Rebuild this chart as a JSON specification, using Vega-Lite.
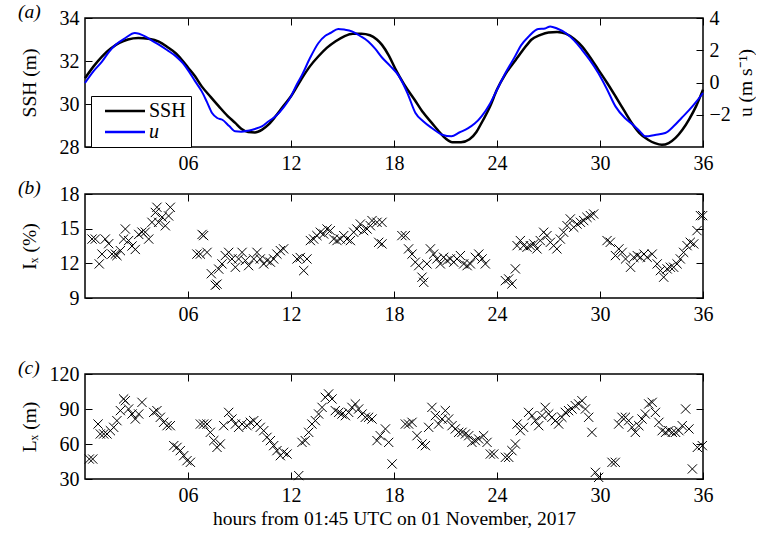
{
"$schema": "https://vega.github.io/schema/vega-lite/v6.json",
"background": "white",
"padding": {"left": 17, "top": 0, "right": 0, "bottom": 5},
"spacing": 2,
"config": {
 "font": "Liberation Serif",
 "view": {"stroke": "#000", "strokeWidth": 1.5},
 "axis": {"labelFont": "Liberation Serif", "titleFont": "Liberation Serif", "labelFontSize": 20, "titleFontSize": 19.5, "titleFontWeight": "normal", "labelColor": "#000", "titleColor": "#000", "tickColor": "#000", "domain": false, "grid": false, "tickSize": -7, "tickWidth": 1, "labelPadding": 13, "minExtent": 0, "labelFlush": false}
},
"datasets": {
 "tide": [
{"s":"SSH","t":0,"v":31.2},{"s":"SSH","t":0.5,"v":31.75},{"s":"SSH","t":1.0,"v":32.22},{"s":"SSH","t":1.5,"v":32.58},{"s":"SSH","t":2.0,"v":32.84},{"s":"SSH","t":2.5,"v":33.0},{"s":"SSH","t":3.1,"v":33.07},{"s":"SSH","t":3.7,"v":33.03},{"s":"SSH","t":4.3,"v":32.9},{"s":"SSH","t":4.8,"v":32.65},{"s":"SSH","t":5.3,"v":32.35},{"s":"SSH","t":5.7,"v":32.0},{"s":"SSH","t":6.0,"v":31.7},{"s":"SSH","t":6.4,"v":31.3},{"s":"SSH","t":6.8,"v":30.82},{"s":"SSH","t":7.3,"v":30.35},{"s":"SSH","t":7.8,"v":29.89},{"s":"SSH","t":8.3,"v":29.45},{"s":"SSH","t":8.75,"v":29.12},{"s":"SSH","t":9.1,"v":28.85},{"s":"SSH","t":9.5,"v":28.7},{"s":"SSH","t":9.9,"v":28.68},{"s":"SSH","t":10.3,"v":28.8},{"s":"SSH","t":10.7,"v":29.05},{"s":"SSH","t":11.1,"v":29.43},{"s":"SSH","t":11.5,"v":29.85},{"s":"SSH","t":12.0,"v":30.36},{"s":"SSH","t":12.6,"v":31.15},{"s":"SSH","t":13.1,"v":31.75},{"s":"SSH","t":13.6,"v":32.22},{"s":"SSH","t":14.1,"v":32.62},{"s":"SSH","t":14.6,"v":32.92},{"s":"SSH","t":15.1,"v":33.15},{"s":"SSH","t":15.6,"v":33.27},{"s":"SSH","t":16.1,"v":33.27},{"s":"SSH","t":16.6,"v":33.2},{"s":"SSH","t":17.0,"v":33.0},{"s":"SSH","t":17.3,"v":32.75},{"s":"SSH","t":17.7,"v":32.25},{"s":"SSH","t":18.1,"v":31.6},{"s":"SSH","t":18.6,"v":30.9},{"s":"SSH","t":19.2,"v":30.2},{"s":"SSH","t":19.7,"v":29.6},{"s":"SSH","t":20.2,"v":29.12},{"s":"SSH","t":20.7,"v":28.65},{"s":"SSH","t":21.0,"v":28.4},{"s":"SSH","t":21.4,"v":28.22},{"s":"SSH","t":21.9,"v":28.22},{"s":"SSH","t":22.4,"v":28.36},{"s":"SSH","t":22.8,"v":28.7},{"s":"SSH","t":23.1,"v":29.12},{"s":"SSH","t":23.6,"v":29.9},{"s":"SSH","t":24.0,"v":30.67},{"s":"SSH","t":24.5,"v":31.4},{"s":"SSH","t":25.1,"v":32.06},{"s":"SSH","t":25.6,"v":32.6},{"s":"SSH","t":26.0,"v":32.99},{"s":"SSH","t":26.5,"v":33.2},{"s":"SSH","t":27.0,"v":33.33},{"s":"SSH","t":27.5,"v":33.35},{"s":"SSH","t":28.0,"v":33.27},{"s":"SSH","t":28.5,"v":33.02},{"s":"SSH","t":28.95,"v":32.68},{"s":"SSH","t":29.4,"v":32.2},{"s":"SSH","t":29.9,"v":31.6},{"s":"SSH","t":30.4,"v":31.0},{"s":"SSH","t":30.9,"v":30.36},{"s":"SSH","t":31.4,"v":29.7},{"s":"SSH","t":31.85,"v":29.12},{"s":"SSH","t":32.3,"v":28.65},{"s":"SSH","t":32.8,"v":28.34},{"s":"SSH","t":33.2,"v":28.18},{"s":"SSH","t":33.6,"v":28.1},{"s":"SSH","t":34.0,"v":28.18},{"s":"SSH","t":34.4,"v":28.42},{"s":"SSH","t":34.8,"v":28.8},{"s":"SSH","t":35.2,"v":29.3},{"s":"SSH","t":35.6,"v":29.9},{"s":"SSH","t":36.0,"v":30.67},
{"s":"u","t":0,"v":-0.03},{"s":"u","t":0.5,"v":0.7},{"s":"u","t":1.0,"v":1.31},{"s":"u","t":1.4,"v":1.9},{"s":"u","t":1.8,"v":2.35},{"s":"u","t":2.35,"v":2.76},{"s":"u","t":2.9,"v":3.07},{"s":"u","t":3.5,"v":2.86},{"s":"u","t":3.9,"v":2.6},{"s":"u","t":4.3,"v":2.35},{"s":"u","t":4.8,"v":2.0},{"s":"u","t":5.3,"v":1.62},{"s":"u","t":5.7,"v":1.2},{"s":"u","t":6.05,"v":0.69},{"s":"u","t":6.4,"v":0.1},{"s":"u","t":6.8,"v":-0.55},{"s":"u","t":7.1,"v":-1.2},{"s":"u","t":7.4,"v":-1.89},{"s":"u","t":7.7,"v":-2.2},{"s":"u","t":8.0,"v":-2.31},{"s":"u","t":8.4,"v":-2.7},{"s":"u","t":8.75,"v":-3.03},{"s":"u","t":9.1,"v":-3.05},{"s":"u","t":9.5,"v":-2.99},{"s":"u","t":9.9,"v":-2.88},{"s":"u","t":10.3,"v":-2.72},{"s":"u","t":10.7,"v":-2.4},{"s":"u","t":11.1,"v":-2.1},{"s":"u","t":11.6,"v":-1.5},{"s":"u","t":12.0,"v":-0.86},{"s":"u","t":12.3,"v":-0.2},{"s":"u","t":12.65,"v":0.48},{"s":"u","t":13.1,"v":1.5},{"s":"u","t":13.6,"v":2.45},{"s":"u","t":14.0,"v":2.9},{"s":"u","t":14.3,"v":3.07},{"s":"u","t":14.75,"v":3.32},{"s":"u","t":15.1,"v":3.28},{"s":"u","t":15.55,"v":3.17},{"s":"u","t":16.0,"v":2.9},{"s":"u","t":16.5,"v":2.55},{"s":"u","t":16.9,"v":2.1},{"s":"u","t":17.3,"v":1.55},{"s":"u","t":17.8,"v":1.0},{"s":"u","t":18.3,"v":0.38},{"s":"u","t":18.8,"v":-0.7},{"s":"u","t":19.25,"v":-1.89},{"s":"u","t":19.7,"v":-2.4},{"s":"u","t":20.2,"v":-2.82},{"s":"u","t":20.8,"v":-3.24},{"s":"u","t":21.35,"v":-3.34},{"s":"u","t":21.8,"v":-3.1},{"s":"u","t":22.3,"v":-2.85},{"s":"u","t":22.7,"v":-2.55},{"s":"u","t":23.1,"v":-2.1},{"s":"u","t":23.6,"v":-1.3},{"s":"u","t":24.0,"v":-0.45},{"s":"u","t":24.5,"v":0.6},{"s":"u","t":25.05,"v":1.62},{"s":"u","t":25.4,"v":2.3},{"s":"u","t":25.85,"v":2.86},{"s":"u","t":26.4,"v":3.32},{"s":"u","t":26.8,"v":3.35},{"s":"u","t":27.1,"v":3.48},{"s":"u","t":27.5,"v":3.35},{"s":"u","t":28.0,"v":3.07},{"s":"u","t":28.5,"v":2.6},{"s":"u","t":28.95,"v":2.03},{"s":"u","t":29.4,"v":1.4},{"s":"u","t":29.9,"v":0.59},{"s":"u","t":30.4,"v":-0.4},{"s":"u","t":30.9,"v":-1.48},{"s":"u","t":31.45,"v":-2.2},{"s":"u","t":31.9,"v":-2.6},{"s":"u","t":32.3,"v":-3.0},{"s":"u","t":32.65,"v":-3.34},{"s":"u","t":33.2,"v":-3.25},{"s":"u","t":33.8,"v":-3.13},{"s":"u","t":34.3,"v":-2.7},{"s":"u","t":34.75,"v":-2.2},{"s":"u","t":35.2,"v":-1.7},{"s":"u","t":35.6,"v":-1.2},{"s":"u","t":36.0,"v":-0.65}
 ],
 "ix": [
{"t":0.41,"v":14.1},{"t":0.6,"v":14.1},{"t":0.83,"v":11.95},{"t":0.99,"v":12.8},{"t":1.18,"v":14.1},{"t":1.38,"v":13.7},{"t":1.57,"v":12.8},{"t":1.77,"v":12.8},{"t":1.86,"v":12.67},{"t":2.06,"v":13.1},{"t":2.25,"v":14.1},{"t":2.35,"v":14.97},{"t":2.54,"v":13.97},{"t":2.74,"v":13.5},{"t":2.93,"v":13.2},{"t":3.13,"v":14.5},{"t":3.32,"v":14.7},{"t":3.51,"v":14.7},{"t":3.71,"v":14.1},{"t":3.9,"v":15.55},{"t":4.1,"v":16.4},{"t":4.19,"v":16.85},{"t":4.29,"v":15.55},{"t":4.49,"v":16.0},{"t":4.68,"v":15.25},{"t":4.87,"v":16.1},{"t":4.97,"v":16.85},
{"t":6.52,"v":12.8},{"t":6.72,"v":12.8},{"t":6.82,"v":14.5},{"t":6.91,"v":14.4},{"t":7.11,"v":12.95},{"t":7.36,"v":11.1},{"t":7.59,"v":10.1},{"t":7.69,"v":10.2},{"t":7.79,"v":11.5},{"t":7.98,"v":11.95},{"t":8.17,"v":12.67},{"t":8.37,"v":12.95},{"t":8.56,"v":12.38},{"t":8.76,"v":11.66},{"t":8.95,"v":12.38},{"t":9.15,"v":12.95},{"t":9.34,"v":12.24},{"t":9.53,"v":11.8},{"t":9.83,"v":12.38},{"t":10.02,"v":12.95},{"t":10.21,"v":12.38},{"t":10.41,"v":11.95},{"t":10.6,"v":12.24},{"t":10.8,"v":12.1},{"t":10.99,"v":12.38},{"t":11.18,"v":12.8},{"t":11.38,"v":13.1},{"t":11.57,"v":13.25},
{"t":12.35,"v":12.38},{"t":12.54,"v":12.5},{"t":12.74,"v":11.37},{"t":12.93,"v":12.38},{"t":13.13,"v":13.97},{"t":13.32,"v":14.1},{"t":13.51,"v":14.4},{"t":13.71,"v":14.69},{"t":13.9,"v":14.54},{"t":14.1,"v":14.97},{"t":14.29,"v":14.83},{"t":14.49,"v":14.1},{"t":14.68,"v":13.97},{"t":14.87,"v":14.1},{"t":15.07,"v":14.4},{"t":15.26,"v":14.1},{"t":15.46,"v":13.97},{"t":15.65,"v":14.69},{"t":15.84,"v":14.97},{"t":16.04,"v":15.4},{"t":16.23,"v":14.83},{"t":16.43,"v":14.97},{"t":16.62,"v":15.26},{"t":16.72,"v":15.7},{"t":17.01,"v":15.55},{"t":17.11,"v":13.82},{"t":17.3,"v":15.55},{"t":17.3,"v":13.68},
{"t":18.46,"v":14.4},{"t":18.66,"v":14.4},{"t":18.85,"v":13.25},{"t":19.05,"v":12.8},{"t":19.24,"v":12.1},{"t":19.44,"v":11.8},{"t":19.63,"v":10.8},{"t":19.73,"v":10.36},{"t":19.92,"v":11.95},{"t":20.12,"v":13.25},{"t":20.31,"v":12.8},{"t":20.5,"v":12.38},{"t":20.7,"v":11.95},{"t":20.89,"v":12.52},{"t":21.09,"v":12.24},{"t":21.28,"v":12.38},{"t":21.48,"v":12.1},{"t":21.67,"v":12.38},{"t":21.87,"v":12.67},{"t":22.06,"v":11.95},{"t":22.26,"v":11.8},{"t":22.45,"v":11.95},{"t":22.74,"v":12.52},{"t":22.94,"v":12.8},{"t":23.13,"v":12.38},{"t":23.32,"v":11.95},
{"t":24.49,"v":10.5},{"t":24.68,"v":10.65},{"t":24.87,"v":10.22},{"t":25.07,"v":11.52},{"t":25.17,"v":13.53},{"t":25.36,"v":13.97},{"t":25.55,"v":13.53},{"t":25.75,"v":13.39},{"t":25.94,"v":13.53},{"t":26.14,"v":13.68},{"t":26.33,"v":13.25},{"t":26.52,"v":13.97},{"t":26.72,"v":14.69},{"t":26.91,"v":14.4},{"t":27.11,"v":13.82},{"t":27.3,"v":13.53},{"t":27.49,"v":13.25},{"t":27.69,"v":14.1},{"t":27.88,"v":14.69},{"t":28.08,"v":15.26},{"t":28.27,"v":15.84},{"t":28.47,"v":15.12},{"t":28.66,"v":15.4},{"t":28.86,"v":15.55},{"t":29.05,"v":15.7},{"t":29.24,"v":15.98},{"t":29.44,"v":16.13},{"t":29.63,"v":16.27},
{"t":30.41,"v":13.97},{"t":30.6,"v":13.82},{"t":30.9,"v":12.67},{"t":31.1,"v":13.25},{"t":31.29,"v":12.95},{"t":31.49,"v":12.38},{"t":31.78,"v":11.66},{"t":31.97,"v":12.52},{"t":32.17,"v":12.67},{"t":32.36,"v":12.52},{"t":32.56,"v":12.8},{"t":32.75,"v":12.52},{"t":33.04,"v":12.8},{"t":33.33,"v":11.95},{"t":33.52,"v":11.37},{"t":33.71,"v":10.8},{"t":33.91,"v":11.52},{"t":34.1,"v":11.66},{"t":34.29,"v":11.66},{"t":34.49,"v":11.95},{"t":34.68,"v":12.38},{"t":34.87,"v":12.95},{"t":35.07,"v":13.53},{"t":35.26,"v":13.82},{"t":35.46,"v":13.68},{"t":35.65,"v":14.83},{"t":35.85,"v":16.13},{"t":35.98,"v":16.13}
 ],
 "lx": [
{"t":0.25,"v":47.1},{"t":0.45,"v":47.1},{"t":0.76,"v":77.1},{"t":0.89,"v":68.6},{"t":1.09,"v":68.6},{"t":1.28,"v":68.6},{"t":1.48,"v":71.4},{"t":1.67,"v":74.3},{"t":1.86,"v":80},{"t":2.06,"v":88.6},{"t":2.25,"v":98.6},{"t":2.35,"v":97.1},{"t":2.54,"v":90},{"t":2.74,"v":85.7},{"t":2.93,"v":81.4},{"t":3.13,"v":85.7},{"t":3.32,"v":95.7},{"t":4.0,"v":87.1},{"t":4.19,"v":88.6},{"t":4.39,"v":82.9},{"t":4.58,"v":78.6},{"t":4.78,"v":75.7},{"t":4.97,"v":75.7},{"t":5.17,"v":58.6},{"t":5.36,"v":57.1},{"t":5.55,"v":54.3},{"t":5.75,"v":50},{"t":5.94,"v":45.7},{"t":6.14,"v":44.3},
{"t":6.72,"v":77.1},{"t":6.91,"v":77.1},{"t":7.11,"v":77.1},{"t":7.3,"v":70},{"t":7.5,"v":62.9},{"t":7.69,"v":57.1},{"t":7.88,"v":60},{"t":8.08,"v":75.7},{"t":8.37,"v":87.1},{"t":8.56,"v":81.4},{"t":8.76,"v":77.1},{"t":8.95,"v":74.3},{"t":9.15,"v":77.1},{"t":9.44,"v":75.7},{"t":9.63,"v":78.6},{"t":9.83,"v":80},{"t":10.02,"v":77.1},{"t":10.21,"v":74.3},{"t":10.41,"v":71.4},{"t":10.6,"v":65.7},{"t":10.8,"v":62.9},{"t":10.99,"v":58.6},{"t":11.18,"v":54.3},{"t":11.38,"v":50},{"t":11.57,"v":52.9},{"t":11.77,"v":51.4},
{"t":12.45,"v":32.9},{"t":12.64,"v":61.4},{"t":12.83,"v":62.9},{"t":13.03,"v":70},{"t":13.22,"v":77.1},{"t":13.42,"v":80},{"t":13.61,"v":85.7},{"t":13.81,"v":91.4},{"t":14.0,"v":100},{"t":14.19,"v":102.9},{"t":14.39,"v":98.6},{"t":14.58,"v":88.6},{"t":14.78,"v":87.1},{"t":14.97,"v":85.7},{"t":15.17,"v":84.3},{"t":15.36,"v":87.1},{"t":15.55,"v":91.4},{"t":15.75,"v":94.3},{"t":15.94,"v":90},{"t":16.14,"v":85.7},{"t":16.33,"v":82.9},{"t":16.52,"v":82.9},{"t":16.72,"v":81.4},{"t":17.01,"v":62.9},{"t":17.2,"v":67.1},{"t":17.5,"v":72.9},{"t":17.69,"v":61.4},{"t":17.89,"v":42.9},
{"t":18.66,"v":77.1},{"t":18.85,"v":77.1},{"t":19.05,"v":78.6},{"t":19.34,"v":67.1},{"t":19.63,"v":60},{"t":19.83,"v":58.6},{"t":20.02,"v":74.3},{"t":20.21,"v":91.4},{"t":20.41,"v":84.3},{"t":20.6,"v":77.1},{"t":20.8,"v":81.4},{"t":20.99,"v":88.6},{"t":21.18,"v":81.4},{"t":21.38,"v":75.7},{"t":21.57,"v":72.9},{"t":21.77,"v":70},{"t":21.96,"v":70},{"t":22.16,"v":68.6},{"t":22.35,"v":67.1},{"t":22.54,"v":61.4},{"t":22.74,"v":62.9},{"t":22.93,"v":64.3},{"t":23.22,"v":67.1},{"t":23.42,"v":61.4},{"t":23.61,"v":51.4},{"t":23.81,"v":51.4},
{"t":24.49,"v":48.6},{"t":24.68,"v":48.6},{"t":24.87,"v":54.3},{"t":25.07,"v":60},{"t":25.17,"v":77.1},{"t":25.36,"v":71.4},{"t":25.55,"v":74.3},{"t":25.84,"v":87.1},{"t":26.04,"v":84.3},{"t":26.23,"v":80},{"t":26.43,"v":75.7},{"t":26.62,"v":84.3},{"t":26.81,"v":91.4},{"t":27.01,"v":85.7},{"t":27.2,"v":82.9},{"t":27.4,"v":80},{"t":27.59,"v":77.1},{"t":27.78,"v":82.9},{"t":27.98,"v":87.1},{"t":28.17,"v":88.6},{"t":28.37,"v":90},{"t":28.56,"v":92.9},{"t":28.76,"v":94.3},{"t":28.95,"v":97.1},{"t":29.15,"v":90},{"t":29.34,"v":82.9},{"t":29.53,"v":70},{"t":29.73,"v":35.7},{"t":29.92,"v":31.4},
{"t":30.7,"v":44.3},{"t":30.89,"v":44.3},{"t":31.09,"v":77.1},{"t":31.28,"v":82.9},{"t":31.48,"v":82.9},{"t":31.67,"v":80},{"t":31.87,"v":74.3},{"t":32.06,"v":70},{"t":32.26,"v":75.7},{"t":32.45,"v":81.4},{"t":32.64,"v":85.7},{"t":32.84,"v":94.3},{"t":33.04,"v":95.7},{"t":33.23,"v":87.1},{"t":33.43,"v":78.6},{"t":33.62,"v":71.4},{"t":33.82,"v":70},{"t":34.01,"v":71.4},{"t":34.21,"v":70},{"t":34.4,"v":70},{"t":34.6,"v":71.4},{"t":34.79,"v":75.7},{"t":34.99,"v":90},{"t":35.18,"v":72.9},{"t":35.38,"v":38.6},{"t":35.67,"v":57.1},{"t":35.96,"v":58.6}
 ]
},
"vconcat": [
 {
  "width": 618, "height": 129,
  "title": {"text": "(a)", "anchor": "start", "frame": "bounds", "dx": -1, "offset": -14, "font": "Liberation Serif", "fontSize": 19.5, "fontStyle": "italic", "fontWeight": "normal", "color": "#000"},
  "data": {"name": "tide"},
  "layer": [
   {
    "transform": [{"filter": "datum.s === 'SSH'"}],
    "mark": {"type": "line", "strokeWidth": 2.5, "interpolate": "monotone"},
    "encoding": {
     "x": {"field": "t", "type": "quantitative", "scale": {"domain": [0, 36], "nice": false}, "axis": {"orient": "bottom", "values": [6, 12, 18, 24, 30, 36], "format": "02d", "title": null}},
     "y": {"field": "v", "type": "quantitative", "scale": {"domain": [28, 34], "nice": false, "zero": false}, "axis": {"orient": "left", "values": [28, 30, 32, 34], "title": "SSH (m)", "titlePadding": 20}},
     "color": {"field": "s", "type": "nominal", "scale": {"domain": ["SSH", "u"], "range": ["#000000", "#0000ff"]},
       "legend": {"orient": "none", "legendX": 6, "legendY": 78, "title": null, "symbolType": "M-0.2,0L7.8,0", "symbolSize": 100, "symbolStrokeWidth": 2.5, "labelFont": "Liberation Serif", "labelFontSize": 20, "labelColor": "#000", "strokeColor": "#000", "fillColor": "#fff", "padding": 5, "rowPadding": 1, "labelOffset": 33,
         "encode": {"labels": {"update": {"fontStyle": {"signal": "datum.label === 'u' ? 'italic' : 'normal'"}}}}}}
    }
   },
   {
    "transform": [{"filter": "datum.s === 'u'"}],
    "mark": {"type": "line", "strokeWidth": 2, "interpolate": "monotone"},
    "encoding": {
     "x": {"field": "t", "type": "quantitative", "scale": {"domain": [0, 36], "nice": false}, "axis": {"orient": "top", "values": [6, 12, 18, 24, 30, 36], "labels": false, "title": null}},
     "y": {"field": "v", "type": "quantitative", "scale": {"domain": [-4, 4], "nice": false}, "axis": {"orient": "right", "values": [-2, 0, 2, 4], "title": "u (m s⁻¹)", "titleAngle": 270, "titleBaseline": "top", "titlePadding": 6}},
     "color": {"field": "s", "type": "nominal"}
    }
   }
  ],
  "resolve": {"scale": {"y": "independent"}, "axis": {"x": "independent", "y": "independent"}}
 },
 {
  "width": 618, "height": 104,
  "title": {"text": "(b)", "anchor": "start", "frame": "bounds", "dx": -1, "offset": -14, "font": "Liberation Serif", "fontSize": 19.5, "fontStyle": "italic", "fontWeight": "normal", "color": "#000"},
  "data": {"name": "ix"},
  "layer": [
   {
    "mark": {"type": "point", "shape": "M-1,-1L1,1M-1,1L1,-1", "filled": false, "color": "#000", "strokeWidth": 1, "size": 85, "opacity": 1},
    "encoding": {
     "x": {"field": "t", "type": "quantitative", "scale": {"domain": [0, 36], "nice": false}, "axis": {"orient": "bottom", "values": [6, 12, 18, 24, 30, 36], "format": "02d", "title": null, "minExtent": 55}},
     "y": {"field": "v", "type": "quantitative", "scale": {"domain": [9, 18], "nice": false, "zero": false}, "axis": {"orient": "left", "values": [9, 12, 15, 18], "title": "Iₓ (%)", "titlePadding": 20}}
    }
   },
   {
    "mark": {"type": "point", "opacity": 0},
    "encoding": {
     "x": {"field": "t", "type": "quantitative", "axis": {"orient": "top", "values": [6, 12, 18, 24, 30, 36], "labels": false, "title": null}},
     "y": {"field": "v", "type": "quantitative", "axis": {"orient": "right", "values": [9, 12, 15, 18], "labels": false, "title": null}}
    }
   }
  ],
  "resolve": {"axis": {"x": "independent", "y": "independent"}}
 },
 {
  "width": 618, "height": 105,
  "title": {"text": "(c)", "anchor": "start", "frame": "bounds", "dx": -1, "offset": -14, "font": "Liberation Serif", "fontSize": 19.5, "fontStyle": "italic", "fontWeight": "normal", "color": "#000"},
  "data": {"name": "lx"},
  "layer": [
   {
    "mark": {"type": "point", "shape": "M-1,-1L1,1M-1,1L1,-1", "filled": false, "color": "#000", "strokeWidth": 1, "size": 85, "opacity": 1},
    "encoding": {
     "x": {"field": "t", "type": "quantitative", "scale": {"domain": [0, 36], "nice": false}, "axis": {"orient": "bottom", "values": [6, 12, 18, 24, 30, 36], "format": "02d", "title": "hours from 01:45 UTC on 01 November, 2017", "titlePadding": 4}},
     "y": {"field": "v", "type": "quantitative", "scale": {"domain": [30, 120], "nice": false, "zero": false}, "axis": {"orient": "left", "values": [30, 60, 90, 120], "title": "Lₓ (m)", "titlePadding": 10}}
    }
   },
   {
    "mark": {"type": "point", "opacity": 0},
    "encoding": {
     "x": {"field": "t", "type": "quantitative", "axis": {"orient": "top", "values": [6, 12, 18, 24, 30, 36], "labels": false, "title": null}},
     "y": {"field": "v", "type": "quantitative", "axis": {"orient": "right", "values": [30, 60, 90, 120], "labels": false, "title": null}}
    }
   }
  ],
  "resolve": {"axis": {"x": "independent", "y": "independent"}}
 }
]
}
